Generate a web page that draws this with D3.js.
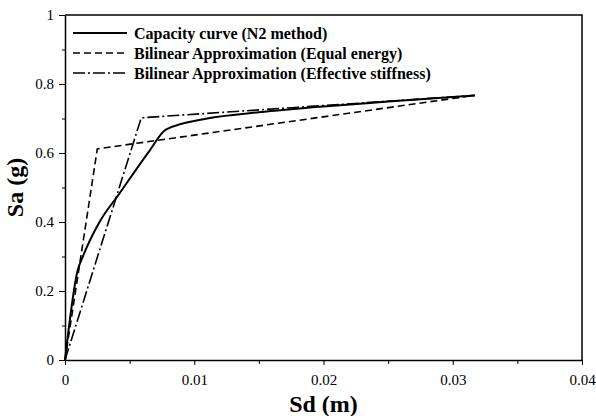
<!DOCTYPE html>
<html>
<head>
<meta charset="utf-8">
<style>
  body { margin: 0; background: #fff; }
  text { font-family: "Liberation Serif", "Times New Roman", serif; fill: #000; }
  .axis text { font-size: 15px; }
  .axis path, .axis line { stroke: #000; }
  .title { font-size: 24px; font-weight: bold; }
  .legend text { font-size: 16px; font-weight: bold; }
</style>
</head>
<body>
<svg class="chart"></svg>
<script src="https://cdnjs.cloudflare.com/ajax/libs/d3/7.8.5/d3.min.js"></script>
<script>
    // capacity curve
    var capSd = [0, 0.00098, 0.00137, 0.00267, 0.0042, 0.00655, 0.0078, 0.011, 0.015, 0.02, 0.025, 0.0317],
        capSa = [0, 0.26, 0.299, 0.40, 0.482, 0.607, 0.668, 0.70, 0.718, 0.735, 0.749, 0.767];
    // bilinear approximations
    var eqSd = [0, 0.0025, 0.0317],
        eqSa = [0, 0.612, 0.767];
    var effSd = [0, 0.0059, 0.0317],
        effSa = [0, 0.702, 0.767];
    var seriesNames = ['Capacity curve (N2 method)',
                       'Bilinear Approximation (Equal energy)',
                       'Bilinear Approximation (Effective stiffness)'];
    var xTicks = [0, 0.01, 0.02, 0.03, 0.04],
        yTicks = [0, 0.2, 0.4, 0.6, 0.8, 1];

    var width = 596, height = 416,
        margin = {top: 15, right: 14, bottom: 56, left: 65};

    var x = d3.scaleLinear().domain([0, 0.04]).range([margin.left, width - margin.right]);
    var y = d3.scaleLinear().domain([0, 1]).range([height - margin.bottom, margin.top]);

    var svg = d3.select('.chart').attr('width', width).attr('height', height);

    // minor ticks
    svg.append('g')
        .attr('class', 'axis')
        .attr('transform', 'translate(0,' + y(0) + ')')
        .call(d3.axisBottom(x).tickValues(d3.range(0.005, 0.04, 0.01)).tickSize(4).tickFormat(''))
        .select('.domain').remove();
    svg.append('g')
        .attr('class', 'axis')
        .attr('transform', 'translate(' + x(0) + ',0)')
        .call(d3.axisLeft(y).tickValues(d3.range(0.1, 1, 0.2)).tickSize(3).tickFormat(''))
        .select('.domain').remove();

    var xAxis = d3.axisBottom(x).tickValues(xTicks).tickSize(5).tickSizeOuter(0).tickPadding(9)
        .tickFormat(function (d) { return d === 0 ? '0' : d3.format('.2f')(d); });
    var yAxis = d3.axisLeft(y).tickValues(yTicks).tickSize(6).tickSizeOuter(0).tickPadding(5)
        .tickFormat(function (d) { return d === 0 || d === 1 ? d : d3.format('.1f')(d); });

    svg.append('g')
        .attr('class', 'x axis')
        .attr('transform', 'translate(0,' + y(0) + ')')
        .call(xAxis);
    svg.append('g')
        .attr('class', 'y axis')
        .attr('transform', 'translate(' + x(0) + ',0)')
        .call(yAxis);
    svg.selectAll('.axis .domain').attr('stroke-width', 1.5);

    // top and right frame
    svg.append('path')
        .attr('d', 'M' + x(0) + ',' + y(1) + 'H' + x(0.04) + 'V' + y(0))
        .attr('fill', 'none').attr('stroke', '#000').attr('stroke-width', 1.5);

    var line = d3.line()
        .x(function (d) { return x(d[0]); })
        .y(function (d) { return y(d[1]); });

    var styles = [
        {dash: null, w: 2},
        {dash: '7,4', w: 1.6},
        {dash: '12,3,2,3', w: 1.6}
    ];
    var series = [
        d3.zip(capSd, capSa),
        d3.zip(eqSd, eqSa),
        d3.zip(effSd, effSa)
    ];

    svg.append('g').selectAll('path')
        .data(series)
        .enter()
        .append('path')
        .attr('d', function (d, i) { return i === 0 ? line.curve(d3.curveMonotoneX)(d) : line.curve(d3.curveLinear)(d); })
        .attr('fill', 'none')
        .attr('stroke', '#000')
        .attr('stroke-width', function (d, i) { return styles[i].w; })
        .attr('stroke-dasharray', function (d, i) { return styles[i].dash; });

    // legend
    var legend = svg.append('g').attr('class', 'legend');
    var rows = legend.selectAll('g')
        .data(seriesNames)
        .enter()
        .append('g')
        .attr('transform', function (d, i) { return 'translate(73,' + (33 + i * 20) + ')'; });
    rows.append('line')
        .attr('x1', 0).attr('x2', 54).attr('y1', 0).attr('y2', 0)
        .attr('stroke', '#000')
        .attr('stroke-width', function (d, i) { return styles[i].w; })
        .attr('stroke-dasharray', function (d, i) { return styles[i].dash; });
    rows.append('text')
        .attr('x', 61).attr('dy', '0.35em')
        .text(function (d) { return d; });

    // axis titles
    svg.append('text')
        .attr('class', 'title')
        .attr('x', (x(0) + x(0.04)) / 2)
        .attr('y', 412)
        .attr('text-anchor', 'middle')
        .text('Sd (m)');
    svg.append('text')
        .attr('class', 'title')
        .attr('transform', 'translate(23,' + (y(0) + y(1)) / 2 + ') rotate(-90)')
        .attr('text-anchor', 'middle')
        .text('Sa (g)');
</script>
</body>
</html>
